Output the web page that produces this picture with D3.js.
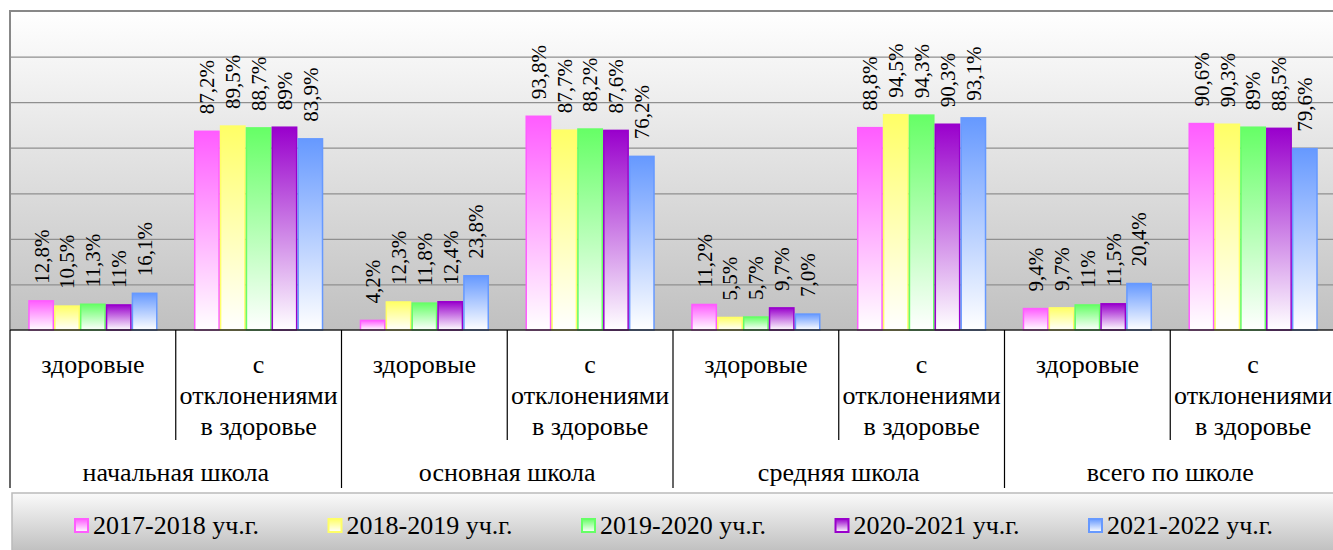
<!DOCTYPE html>
<html>
<head>
<meta charset="utf-8">
<script src="https://cdn.jsdelivr.net/npm/d3@7"></script>
<style>
  body { margin: 0; background: #fff; }
  svg, svg text, svg tspan { font-family: "Liberation Serif", Tinos, serif !important; }
</style>
</head>
<body>
<svg width="1333" height="550" font-family="Liberation Serif"></svg>
<script>
var groups = ["начальная школа", "основная школа", "средняя школа", "всего по школе"];
var subcats = [["здоровые"], ["с", "отклонениями", "в здоровье"]];
var series = ["2017-2018 уч.г.", "2018-2019 уч.г.", "2019-2020 уч.г.", "2020-2021 уч.г.", "2021-2022 уч.г."];
var yTicks = [0, 20, 40, 60, 80, 100, 120, 140];

// values per year, 8 columns: (здоровые, с отклонениями) x 4 groups
var v2017 = ["12,8", "87,2", "4,2", "93,8", "11,2", "88,8", "9,4", "90,6"];
var v2018 = ["10,5", "89,5", "12,3", "87,7", "5,5", "94,5", "9,7", "90,3"];
var v2019 = ["11,3", "88,7", "11,8", "88,2", "5,7", "94,3", "11", "89"];
var v2020 = ["11", "89", "12,4", "87,6", "9,7", "90,3", "11,5", "88,5"];
var v2021 = ["16,1", "83,9", "23,8", "76,2", "7,0", "93,1", "20,4", "79,6"];
var values = [v2017, v2018, v2019, v2020, v2021];

var colors = ["#ff5cff", "#ffff66", "#66ff66", "#9900cc", "#6699ff"];
var serifFont = "Liberation Serif";

var svg = d3.select("svg");
var pLeft = 10, pRight = 1336, pTop = 11, pBottom = 330;
var nCols = groups.length * subcats.length;

var x0 = d3.scaleBand().domain(d3.range(nCols)).range([pLeft, pRight]);
var x1 = d3.scaleBand().domain(d3.range(series.length))
    .range([0, x0.bandwidth()]).paddingInner(0).paddingOuter(0.705);
var y = d3.scaleLinear().domain([0, 140]).range([pBottom, pTop]);

var defs = svg.append("defs");
function vgrad(id, c1, c2) {
  var g = defs.append("linearGradient").attr("id", id)
      .attr("x1", 0).attr("y1", 0).attr("x2", 0).attr("y2", 1);
  g.append("stop").attr("offset", "0%").attr("stop-color", c1);
  g.append("stop").attr("offset", "100%").attr("stop-color", c2);
}
vgrad("bg", "#ffffff", "#c0c0c0");
vgrad("legbg", "#fafafa", "#bcbcbc");
colors.forEach(function(c, i) { vgrad("bar" + i, c, "#ffffff"); });

// plot background
svg.append("rect")
    .attr("x", pLeft).attr("y", pTop)
    .attr("width", pRight - pLeft).attr("height", pBottom - pTop)
    .attr("fill", "url(#bg)");

// gridlines
svg.append("g")
    .attr("transform", "translate(" + pLeft + ",0)")
    .call(d3.axisLeft(y).tickValues(yTicks.slice(1)).tickSize(-(pRight - pLeft)).tickFormat(""))
    .call(function(g) { g.select(".domain").remove(); })
    .selectAll("line").attr("stroke", "#8f8f8f").attr("stroke-width", 1.2);

// plot border (top + left)
svg.append("path")
    .attr("d", "M" + pLeft + "," + pBottom + "V" + pTop + "H" + pRight)
    .attr("fill", "none").attr("stroke", "#888").attr("stroke-width", 2);

// bars
var cols = svg.append("g").selectAll("g")
    .data(d3.range(nCols)).join("g")
    .attr("transform", function(d) { return "translate(" + x0(d) + ",0)"; });

function num(s) { return +s.replace(",", "."); }
function colData(c) {
  return values.map(function(v, i) { return { s: i, label: v[c], val: num(v[c]) }; });
}

cols.selectAll("rect")
    .data(colData)
    .join("rect")
    .attr("x", function(d) { return x1(d.s) + 0.75; })
    .attr("y", function(d) { return y(d.val); })
    .attr("width", x1.bandwidth() - 1.5)
    .attr("height", function(d) { return pBottom - y(d.val); })
    .attr("fill", function(d) { return "url(#bar" + d.s + ")"; })
    .attr("stroke", function(d) { return colors[d.s]; })
    .attr("stroke-width", 1.5);

cols.selectAll("text")
    .data(colData)
    .join("text")
    .attr("transform", function(d) {
      return "translate(" + (x1(d.s) + x1.bandwidth() / 2) + "," + (y(d.val) - 17) + ") rotate(-90)";
    })
    .attr("dy", "0.35em")
    .attr("font-family", serifFont)
    .attr("font-size", 21)
    .text(function(d) { return d.label + "%"; });

// category axis
svg.append("line")
    .attr("x1", pLeft).attr("x2", pRight).attr("y1", pBottom).attr("y2", pBottom)
    .attr("stroke", "#222").attr("stroke-width", 1.5);

svg.append("g").selectAll("line")
    .data(d3.range(nCols + 1)).join("line")
    .attr("x1", function(d) { return d < nCols ? x0(d) : pRight; })
    .attr("x2", function(d) { return d < nCols ? x0(d) : pRight; })
    .attr("y1", pBottom)
    .attr("y2", function(d) { return d % 2 === 0 ? 488 : 440; })
    .attr("stroke", "#000").attr("stroke-width", 1.2);

var catText = svg.append("g").attr("text-anchor", "middle");
d3.range(nCols).forEach(function(c) {
  var t = catText.append("text")
      .attr("x", x0(c) + x0.bandwidth() / 2)
      .attr("y", 373)
      .attr("font-family", serifFont)
      .attr("font-size", 26);
  subcats[c % 2].forEach(function(line, i) {
    t.append("tspan")
        .attr("x", x0(c) + x0.bandwidth() / 2)
        .attr("dy", i === 0 ? 0 : 31)
        .text(line);
  });
});

catText.selectAll(".grp")
    .data(groups).join("text")
    .attr("class", "grp")
    .attr("x", function(d, i) { return x0(i * 2) + x0.bandwidth(); })
    .attr("y", 481)
    .attr("font-family", serifFont)
    .attr("font-size", 26)
    .text(function(d) { return d; });

// legend
svg.append("rect")
    .attr("x", 12).attr("y", 493).attr("width", 1340).attr("height", 62)
    .attr("fill", "url(#legbg)").attr("stroke", "#bbb").attr("stroke-width", 1.5);

var lx = d3.scaleBand().domain(d3.range(series.length)).range([74, 74 + 253.5 * series.length]);

var leg = svg.append("g").selectAll("g")
    .data(series).join("g")
    .attr("transform", function(d, i) { return "translate(" + lx(i) + ",518)"; });

leg.append("rect")
    .attr("x", 1).attr("y", 1).attr("width", 13).attr("height", 13)
    .attr("fill", function(d, i) { return "url(#bar" + i + ")"; })
    .attr("stroke", function(d, i) { return colors[i]; })
    .attr("stroke-width", 2);

leg.append("text")
    .attr("x", 19).attr("y", 16)
    .attr("font-family", serifFont)
    .attr("font-size", 26)
    .text(function(d) { return d; });
</script>
</body>
</html>
